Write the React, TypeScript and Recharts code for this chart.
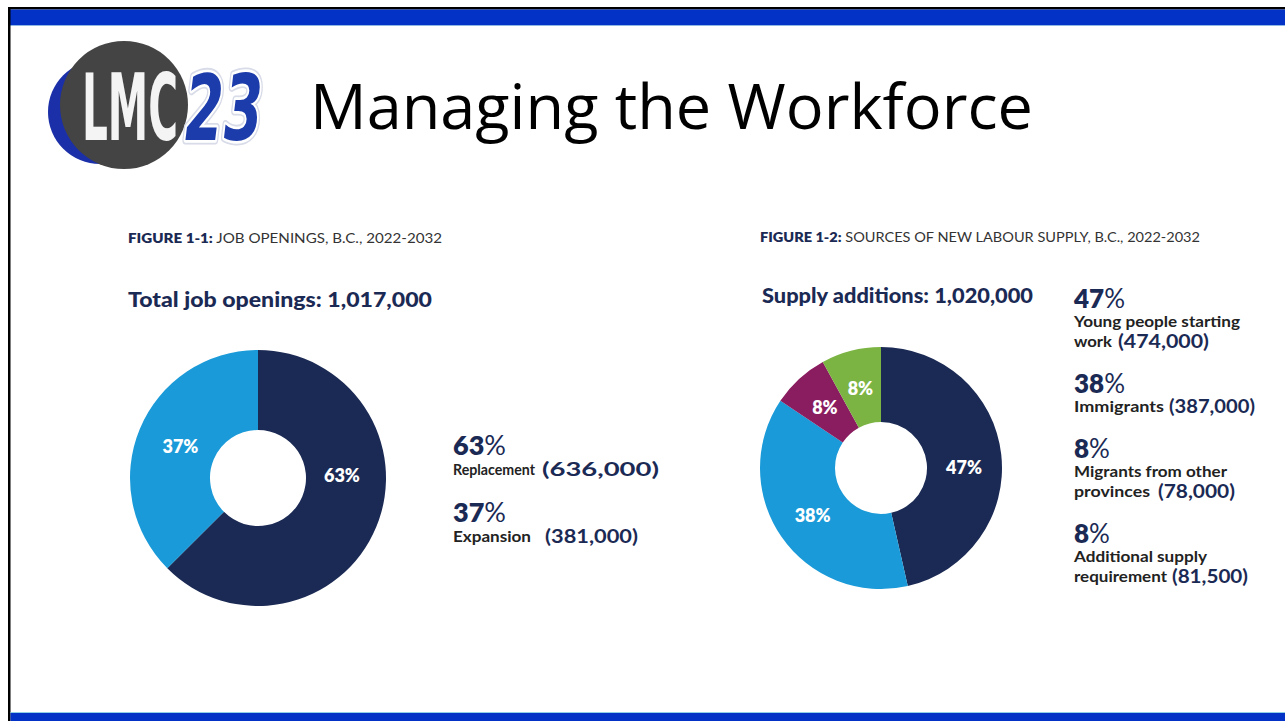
import React from 'react';
import { PieChart, Pie, Cell } from 'recharts';

// ---------- data ----------
const JOB_CATEGORIES = ['Replacement', 'Expansion'];
const JOB_VALUES = [636000, 381000];
const JOB_PCT_LABELS = ['63%', '37%'];
const JOB_TOTAL_LABEL = '1,017,000';

const SUPPLY_CATEGORIES = [
  'Young people starting work',
  'Immigrants',
  'Migrants from other provinces',
  'Additional supply requirement',
];
const SUPPLY_VALUES = [474000, 387000, 78000, 81500];
const SUPPLY_PCT_LABELS = ['47%', '38%', '8%', '8%'];
const SUPPLY_TOTAL_LABEL = '1,020,000';

const NAVY = '#1b2a54';
const LIGHT_BLUE = '#1a9ad8';
const PURPLE = '#8a1d5f';
const GREEN = '#7bb443';
const BAND = '#0333c6';

const JOB_COLORS = [NAVY, LIGHT_BLUE];
const SUPPLY_COLORS = [NAVY, LIGHT_BLUE, PURPLE, GREEN];

const jobData = JOB_CATEGORIES.map((name, i) => ({ name, value: JOB_VALUES[i], pct: JOB_PCT_LABELS[i] }));
const supplyData = SUPPLY_CATEGORIES.map((name, i) => ({ name, value: SUPPLY_VALUES[i], pct: SUPPLY_PCT_LABELS[i] }));

const RAD = Math.PI / 180;
const FONT = 'Lato, "Open Sans", sans-serif';
const COND = '"DejaVu Sans Condensed", "DejaVu Sans", sans-serif';

function makeLabel(angleOverride: (number | null)[], radius: number) {
  return (props: any) => {
    const { cx, cy, midAngle, index, payload } = props;
    const ang = angleOverride[index] != null ? (angleOverride[index] as number) : midAngle;
    const x = cx + radius * Math.cos(-ang * RAD);
    const y = cy + radius * Math.sin(-ang * RAD);
    const pct = (payload && payload.pct) || props.pct;
    return (
      <text x={x} y={y} fill="#ffffff" textAnchor="middle" dominantBaseline="central"
        fontFamily={FONT} fontWeight={800} fontSize={18}>
        {pct}
      </text>
    );
  };
}

const fmt = (v: number) => v.toLocaleString('en-US');

function LabelText({ x, y, w, children }: any) {
  return (
    <text x={x} y={y} fontFamily={FONT} fontWeight={700} fontSize={15.5} fill="#222"
      textLength={w} lengthAdjust="spacingAndGlyphs">{children}</text>
  );
}

function Legend1() {
  const rows = [
    { pct: JOB_PCT_LABELS[0], name: JOB_CATEGORIES[0], val: JOB_VALUES[0], y: 455, nameW: 82, valX: 542, valW: 117 },
    { pct: JOB_PCT_LABELS[1], name: JOB_CATEGORIES[1], val: JOB_VALUES[1], y: 522, nameW: 78, valX: 545, valW: 93 },
  ];
  return (
    <g>
      {rows.map((r, i) => (
        <g key={i}>
          <text x={453} y={r.y} fontFamily={FONT} fontSize={27} fill={NAVY}>
            <tspan fontWeight={800}>{r.pct.replace('%', '')}</tspan>
            <tspan fontWeight={400}>%</tspan>
          </text>
          <LabelText x={453} y={r.y + 20} w={r.nameW}>{r.name}</LabelText>
          <text x={r.valX} y={r.y + 21} fontFamily={FONT} fontWeight={700} fontSize={19} fill={NAVY}
            textLength={r.valW} lengthAdjust="spacingAndGlyphs">({fmt(r.val)})</text>
        </g>
      ))}
    </g>
  );
}

function Legend2() {
  const rows = [
    { i: 0, y: 308, lines: ['Young people starting', 'work'], lineW: [166, 38], valX: 1118, valW: 91 },
    { i: 1, y: 393, lines: ['Immigrants'], lineW: [90], valX: 1169, valW: 86 },
    { i: 2, y: 458, lines: ['Migrants from other', 'provinces'], lineW: [153, 76], valX: 1158, valW: 77 },
    { i: 3, y: 543, lines: ['Additional supply', 'requirement'], lineW: [133, 93], valX: 1172, valW: 76 },
  ];
  return (
    <g>
      {rows.map((r) => (
        <g key={r.i}>
          <text x={1074} y={r.y} fontFamily={FONT} fontSize={26} fill={NAVY}>
            <tspan fontWeight={800}>{SUPPLY_PCT_LABELS[r.i].replace('%', '')}</tspan>
            <tspan fontWeight={400}>%</tspan>
          </text>
          {r.lines.map((ln, k) => (
            <LabelText key={k} x={1074} y={r.y + 19 + k * 20} w={r.lineW[k]}>{ln}</LabelText>
          ))}
          <text x={r.valX} y={r.y + 20 + (r.lines.length - 1) * 20} fontFamily={FONT} fontWeight={700}
            fontSize={19} fill={NAVY} textLength={r.valW} lengthAdjust="spacingAndGlyphs">
            ({fmt(SUPPLY_VALUES[r.i])})
          </text>
        </g>
      ))}
    </g>
  );
}

function Background() {
  return (
    <svg width={1285} height={721} style={{ position: 'absolute', left: 0, top: 0 }}>
      <rect x={0} y={0} width={1285} height={721} fill="#ffffff" />
      {/* frame and bands */}
      <rect x={8} y={7} width={1277} height={2.5} fill="#000" />
      <rect x={10} y={9.5} width={1275} height={15.5} fill={BAND} />
      <rect x={10} y={25} width={1275} height={1} fill="#8fb7e6" />
      <rect x={8} y={7} width={2.5} height={714} fill="#000" />
      <rect x={10.5} y={712} width={1275} height={1} fill="#8fd0e6" />
      <rect x={10.5} y={713} width={1275} height={8} fill={BAND} />

      {/* logo */}
      <circle cx={100} cy={112} r={52} fill="#1b2fa8" />
      <circle cx={124} cy={105} r={64} fill="#444444" />
      <text transform="translate(82,140) scale(1,2.06)" x={0} y={0} fontFamily={COND} fontWeight={700}
        fontSize={45} fill="#f4f4f4" textLength={96} lengthAdjust="spacingAndGlyphs">LMC</text>
      <g transform="translate(185,140) scale(1,1.5)">
        <text x={0} y={0} fontFamily={COND} fontWeight={700}
          fontStyle="italic" fontSize={61} fill="#1d3cab" stroke="#d8dbe8" strokeWidth={6}
          strokeLinejoin="round" textLength={78} lengthAdjust="spacingAndGlyphs">23</text>
        <text x={0} y={0} fontFamily={COND} fontWeight={700}
          fontStyle="italic" fontSize={61} fill="#1d3cab" stroke="#ffffff" strokeWidth={3.5}
          strokeLinejoin="round" style={{ paintOrder: 'stroke' } as any} textLength={78}
          lengthAdjust="spacingAndGlyphs">23</text>
      </g>

      {/* title */}
      <text x={310} y={129} fontFamily='"Open Sans", sans-serif' fontSize={63} fill="#000"
        textLength={723} lengthAdjust="spacingAndGlyphs">Managing the Workforce</text>

      {/* figure 1-1 headings */}
      <text x={128} y={243} fontFamily={FONT} fontSize={13} fill="#333" textLength={314} lengthAdjust="spacingAndGlyphs">
        <tspan fontWeight={800} fill={NAVY}>FIGURE 1-1:</tspan>
        <tspan> JOB OPENINGS, B.C.,  2022-2032</tspan>
      </text>
      <text x={128} y={307} fontFamily={FONT} fontWeight={900} fontSize={21} fill={NAVY}
        textLength={304} lengthAdjust="spacingAndGlyphs">Total job openings: {JOB_TOTAL_LABEL}</text>

      {/* figure 1-2 headings */}
      <text x={760} y={242} fontFamily={FONT} fontSize={13} fill="#333" textLength={440} lengthAdjust="spacingAndGlyphs">
        <tspan fontWeight={800} fill={NAVY}>FIGURE 1-2:</tspan>
        <tspan> SOURCES OF NEW LABOUR SUPPLY, B.C.,  2022-2032</tspan>
      </text>
      <text x={762} y={303} fontFamily={FONT} fontWeight={900} fontSize={20} fill={NAVY}
        textLength={271} lengthAdjust="spacingAndGlyphs">Supply additions: {SUPPLY_TOTAL_LABEL}</text>

      <Legend1 />
      <Legend2 />
    </svg>
  );
}

export default function App() {
  return (
    <div style={{ position: 'absolute', left: 0, top: 0, width: 1285, height: 721, background: '#fff', overflow: 'hidden' }}>
      <Background />
      <div style={{ position: 'absolute', left: 103, top: 323 }}>
        <PieChart width={300} height={300}>
          <Pie data={jobData} dataKey="value" nameKey="name" cx={150} cy={150}
            innerRadius={48} outerRadius={128} startAngle={90} endAngle={-270}
            stroke="none" isAnimationActive={false} labelLine={false}
            label={makeLabel([2, null], 84)}>
            {jobData.map((d, i) => <Cell key={d.name} fill={JOB_COLORS[i]} />)}
          </Pie>
        </PieChart>
      </div>
      <div style={{ position: 'absolute', left: 726, top: 313 }}>
        <PieChart width={300} height={300}>
          <Pie data={supplyData} dataKey="value" nameKey="name" cx={150} cy={150}
            innerRadius={46} outerRadius={121} startAngle={90} endAngle={-270}
            stroke="none" isAnimationActive={false} labelLine={false}
            label={makeLabel([1, null, null, null], 83)}>
            {supplyData.map((d, i) => <Cell key={d.name} fill={SUPPLY_COLORS[i]} />)}
          </Pie>
        </PieChart>
      </div>
    </div>
  );
}
